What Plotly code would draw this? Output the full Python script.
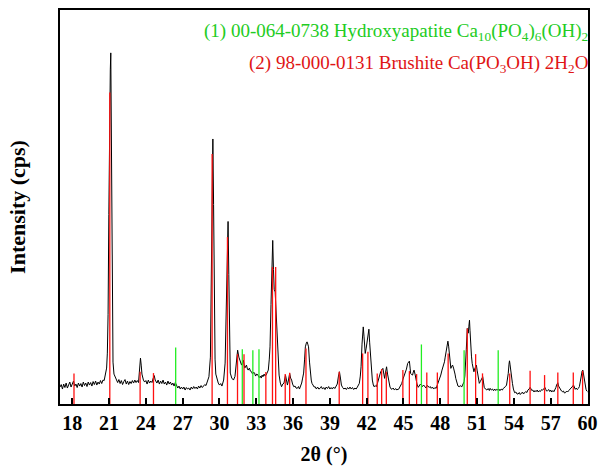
import plotly.graph_objects as go

# --- measured XRD pattern (2theta in degrees, intensity in cps) ---
two_theta = [
    17.0, 17.1, 17.2, 17.3, 17.4, 17.5, 17.6, 17.7, 17.8, 17.9,
    18.0, 18.1, 18.2, 18.3, 18.4, 18.5, 18.6, 18.7, 18.8, 18.9,
    19.0, 19.1, 19.2, 19.3, 19.4, 19.5, 19.6, 19.7, 19.8, 19.9,
    20.0, 20.1, 20.2, 20.3, 20.4, 20.5, 20.6, 20.7, 20.8, 20.86,
    20.92, 20.98, 21.04, 21.1, 21.14, 21.18, 21.22, 21.27, 21.32, 21.4,
    21.5, 21.6, 21.7, 21.8, 21.9, 22.0, 22.1, 22.2, 22.3, 22.4,
    22.5, 22.6, 22.7, 22.8, 22.9, 23.0, 23.1, 23.2, 23.3, 23.4,
    23.48, 23.56, 23.62, 23.68, 23.8, 23.9, 24.0, 24.1, 24.2, 24.3,
    24.4, 24.5, 24.6, 24.68, 24.76, 24.9, 25.0, 25.1, 25.2, 25.3,
    25.4, 25.5, 25.6, 25.7, 25.8, 25.9, 26.0, 26.1, 26.2, 26.3,
    26.4, 26.5, 26.6, 26.7, 26.8, 26.9, 27.0, 27.1, 27.2, 27.3,
    27.4, 27.5, 27.6, 27.7, 27.8, 27.9, 28.0, 28.1, 28.2, 28.3,
    28.4, 28.5, 28.6, 28.7, 28.8, 28.9, 29.0, 29.14, 29.26, 29.32,
    29.38, 29.46, 29.52, 29.58, 29.64, 29.7, 29.8, 29.9, 30.0, 30.1,
    30.2, 30.34, 30.46, 30.54, 30.62, 30.7, 30.76, 30.82, 30.88, 31.0,
    31.14, 31.26, 31.36, 31.48, 31.58, 31.66, 31.74, 31.8, 31.88, 31.94,
    32.06, 32.14, 32.2, 32.28, 32.34, 32.44, 32.52, 32.6, 32.7, 32.78,
    32.86, 32.94, 33.04, 33.14, 33.24, 33.34, 33.4, 33.48, 33.54, 33.64,
    33.72, 33.8, 33.9, 33.98, 34.06, 34.12, 34.2, 34.28, 34.34, 34.4,
    34.46, 34.54, 34.6, 34.66, 34.74, 34.8, 34.86, 34.96, 35.06, 35.16,
    35.26, 35.38, 35.46, 35.54, 35.64, 35.72, 35.8, 35.88, 35.96, 36.06,
    36.16, 36.24, 36.34, 36.44, 36.52, 36.6, 36.7, 36.78, 36.86, 36.94,
    37.0, 37.08, 37.14, 37.2, 37.26, 37.34, 37.4, 37.48, 37.54, 37.64,
    37.72, 37.8, 37.9, 38.0, 38.1, 38.2, 38.3, 38.4, 38.5, 38.6,
    38.7, 38.8, 38.9, 39.0, 39.1, 39.2, 39.3, 39.4, 39.5, 39.6,
    39.7, 39.78, 39.86, 39.94, 40.04, 40.14, 40.24, 40.34, 40.44, 40.54,
    40.64, 40.74, 40.84, 40.94, 41.04, 41.14, 41.24, 41.32, 41.4, 41.48,
    41.54, 41.62, 41.68, 41.72, 41.78, 41.84, 41.88, 41.96, 42.02, 42.1,
    42.18, 42.24, 42.3, 42.34, 42.4, 42.46, 42.54, 42.6, 42.7, 42.78,
    42.86, 42.94, 43.04, 43.14, 43.22, 43.32, 43.4, 43.46, 43.54, 43.62,
    43.7, 43.8, 43.9, 44.0, 44.06, 44.16, 44.26, 44.36, 44.46, 44.56,
    44.6, 44.7, 44.78, 44.86, 44.96, 45.06, 45.14, 45.24, 45.34, 45.42,
    45.48, 45.54, 45.58, 45.66, 45.74, 45.8, 45.86, 45.94, 46.02, 46.1,
    46.2, 46.3, 46.38, 46.46, 46.54, 46.64, 46.74, 46.84, 46.92, 47.0,
    47.1, 47.18, 47.26, 47.36, 47.46, 47.56, 47.66, 47.76, 47.86, 47.94,
    48.04, 48.14, 48.24, 48.34, 48.4, 48.46, 48.54, 48.62, 48.68, 48.74,
    48.8, 48.86, 48.94, 49.0, 49.08, 49.14, 49.2, 49.26, 49.34, 49.44,
    49.54, 49.64, 49.74, 49.84, 49.94, 50.0, 50.06, 50.12, 50.2, 50.28,
    50.33, 50.38, 50.42, 50.46, 50.54, 50.6, 50.68, 50.74, 50.8, 50.86,
    50.94, 51.0, 51.06, 51.12, 51.18, 51.26, 51.32, 51.4, 51.46, 51.52,
    51.58, 51.68, 51.8, 51.9, 52.0, 52.06, 52.16, 52.26, 52.34, 52.44,
    52.52, 52.6, 52.7, 52.78, 52.86, 52.96, 53.06, 53.14, 53.24, 53.32,
    53.4, 53.48, 53.54, 53.6, 53.64, 53.68, 53.74, 53.8, 53.88, 53.96,
    54.06, 54.16, 54.26, 54.34, 54.44, 54.52, 54.6, 54.7, 54.78, 54.86,
    54.96, 55.06, 55.14, 55.24, 55.32, 55.4, 55.46, 55.54, 55.64, 55.72,
    55.8, 55.9, 55.98, 56.06, 56.16, 56.26, 56.34, 56.44, 56.52, 56.6,
    56.66, 56.74, 56.84, 56.92, 57.0, 57.08, 57.18, 57.26, 57.34, 57.42,
    57.48, 57.54, 57.58, 57.64, 57.72, 57.8, 57.88, 57.94, 58.04, 58.12,
    58.2, 58.3, 58.38, 58.46, 58.56, 58.66, 58.74, 58.8, 58.86, 58.94,
    59.0, 59.08, 59.16, 59.26, 59.34, 59.42, 59.48, 59.56, 59.62, 59.68,
    59.74, 59.8, 59.88, 59.94, 60.0,
]
intensity = [
    170, 195, 150, 200, 165, 210, 160, 195, 220, 170,
    205, 230, 180, 200, 165, 210, 180, 205, 170, 220,
    185, 210, 175, 220, 190, 215, 180, 225, 195, 230,
    190, 220, 200, 235, 205, 240, 235, 290, 360, 510,
    900, 1900, 2900, 3350, 3520, 2700, 1400, 650, 420, 300,
    270, 250, 215, 245, 205, 235, 195, 225, 245, 200,
    230, 195, 225, 205, 235, 210, 240, 215, 235, 215,
    340, 460, 390, 300, 240, 220, 235, 200, 240, 210,
    230, 215, 260, 285, 240, 210, 240, 200, 230, 205,
    240, 200, 220, 190, 230, 200, 220, 190, 210, 180,
    215, 180, 160, 180, 150, 170, 150, 170, 140, 165,
    150, 160, 140, 170, 150, 175, 155, 170, 150, 180,
    160, 185, 165, 180, 195, 185, 215, 273, 470, 1100,
    2000, 2657, 2000, 900, 450, 300, 240, 210, 190, 205,
    180, 240, 410, 900, 1500, 1830, 1300, 600, 310, 260,
    240, 275, 400, 540, 470, 440, 400, 390, 420, 440,
    360, 380, 390, 350, 340, 360, 330, 325, 300, 320,
    310, 280, 300, 290, 265, 280, 260, 290, 273, 300,
    280, 290, 310, 340, 450, 573, 1000, 1450, 1640, 1350,
    1150, 1123, 973, 800, 573, 400, 290, 210, 173, 200,
    210, 290, 230, 190, 250, 307, 260, 240, 200, 173,
    180, 160, 157, 175, 150, 170, 210, 260, 310, 450,
    573, 610, 623, 600, 573, 420, 307, 240, 207, 190,
    170, 173, 150, 170, 150, 157, 175, 150, 165, 145,
    170, 155, 175, 150, 165, 150, 170, 155, 175, 200,
    280, 323, 260, 190, 165, 150, 160, 145, 165, 150,
    170, 150, 165, 145, 160, 150, 170, 190, 207, 280,
    373, 600, 740, 773, 680, 540, 507, 560, 607, 700,
    750, 620, 520, 440, 320, 240, 190, 173, 185, 173,
    200, 240, 280, 323, 340, 357, 300, 257, 320, 373,
    300, 207, 170, 150, 147, 160, 140, 155, 140, 150,
    147, 170, 185, 207, 250, 280, 307, 350, 407, 425,
    430, 360, 307, 295, 290, 320, 340, 300, 240, 200,
    167, 180, 200, 190, 175, 190, 173, 160, 185, 180,
    165, 175, 157, 170, 150, 165, 157, 190, 210, 240,
    290, 340, 380, 423, 470, 523, 580, 630, 580, 507,
    420, 357, 380, 390, 360, 340, 300, 257, 210, 180,
    173, 185, 170, 190, 223, 280, 373, 550, 757, 710,
    780, 840, 740, 607, 480, 407, 350, 323, 350, 373,
    390, 340, 290, 240, 207, 225, 240, 260, 273, 220,
    167, 150, 140, 155, 135, 157, 140, 150, 133, 150,
    135, 147, 140, 150, 133, 150, 140, 157, 165, 175,
    190, 250, 307, 400, 433, 400, 323, 260, 207, 150,
    113, 120, 100, 100, 115, 95, 107, 120, 100, 113,
    125, 115, 140, 150, 167, 150, 135, 140, 120, 135,
    123, 140, 120, 133, 125, 145, 140, 150, 167, 145,
    130, 133, 145, 125, 140, 120, 135, 123, 140, 165,
    190, 205, 213, 180, 157, 140, 130, 123, 130, 110,
    113, 130, 120, 133, 145, 155, 167, 180, 190, 165,
    147, 160, 145, 157, 175, 230, 290, 330, 340, 290,
    240, 190, 147, 130, 123,
]

# --- reference pattern (1) 00-064-0738 Hydroxyapatite ---
hap_pos = [26.43, 31.86, 32.72, 33.22, 46.46, 49.94, 52.72]
hap_int = [567, 550, 540, 550, 597, 540, 540]

# --- reference pattern (2) 98-000-0131 Brushite ---
bru_pos = [18.14, 21.06, 23.53, 24.62, 29.40, 30.65, 31.47, 32.00, 33.78,
           34.32, 34.58, 35.36, 35.72, 37.05, 39.76, 41.67, 42.10, 42.86,
           43.22, 43.60, 44.95, 45.48, 46.07, 46.90, 47.76, 48.64, 50.20,
           50.88, 51.44, 53.66, 55.32, 56.50, 57.58, 58.84, 59.60]
bru_int = [307, 3123, 323, 310, 2507, 1673, 500, 500, 320,
           1373, 1373, 300, 313, 557, 323, 507, 523, 307,
           350, 323, 340, 330, 300, 317, 317, 507, 757,
           500, 307, 307, 333, 290, 317, 317, 333]

x_ticks = [18, 21, 24, 27, 30, 33, 36, 39, 42, 45, 48, 51, 54, 57, 60]

legend_1 = "(1) 00-064-0738 Hydroxyapatite Ca<sub>10</sub>(PO<sub>4</sub>)<sub>6</sub>(OH)<sub>2</sub>"
legend_2 = "(2) 98-000-0131 Brushite Ca(PO<sub>3</sub>OH) 2H<sub>2</sub>O"

GREEN_LINE = "#22ee22"
GREEN_TEXT = "#22cc22"
RED_LINE = "#ff1010"
RED_TEXT = "#e01515"


def sticks(pos, val):
    xs, ys = [], []
    for p, v in zip(pos, val):
        xs += [p, p, None]
        ys += [0, v, None]
    return xs, ys


fig = go.Figure()
fig.add_trace(go.Scatter(x=two_theta, y=intensity, mode="lines",
                         line=dict(color="black", width=1), showlegend=False))
hx, hy = sticks(hap_pos, hap_int)
fig.add_trace(go.Scatter(x=hx, y=hy, mode="lines",
                         line=dict(color=GREEN_LINE, width=1.3), showlegend=False))
bx, by = sticks(bru_pos, bru_int)
fig.add_trace(go.Scatter(x=bx, y=by, mode="lines",
                         line=dict(color=RED_LINE, width=1.3), showlegend=False))

serif = "Liberation Serif, Times New Roman, serif"

fig.add_annotation(xref="paper", yref="paper", x=1.004, y=0.944, xanchor="right",
                   yanchor="middle", text=legend_1, showarrow=False,
                   font=dict(family=serif, size=19, color=GREEN_TEXT))
fig.add_annotation(xref="paper", yref="paper", x=1.004, y=0.864, xanchor="right",
                   yanchor="middle", text=legend_2, showarrow=False,
                   font=dict(family=serif, size=19, color=RED_TEXT))

fig.update_layout(
    width=606, height=470,
    margin=dict(l=60, r=8, t=9, b=66),
    paper_bgcolor="white", plot_bgcolor="white",
    font=dict(family=serif, color="black"),
    xaxis=dict(
        range=[17, 60.04], tickvals=x_ticks, ticktext=[str(t) for t in x_ticks],
        ticks="inside", ticklen=6, tickwidth=2, tickcolor="black",
        tickfont=dict(family=serif, size=20, color="black", weight="bold"),
        showline=True, linecolor="black", linewidth=2, mirror=True,
        showgrid=False, zeroline=False,
        title=dict(text="2θ (°)", font=dict(family=serif, size=20, weight="bold"),
                   standoff=14),
    ),
    yaxis=dict(
        range=[0, 3950], showticklabels=False, ticks="",
        showline=True, linecolor="black", linewidth=2, mirror=True,
        showgrid=False, zeroline=False,
        title=dict(text="Intensity (cps)", font=dict(family=serif, size=22, weight="bold"),
                   standoff=26),
    ),
)

fig.write_html("out.html")
